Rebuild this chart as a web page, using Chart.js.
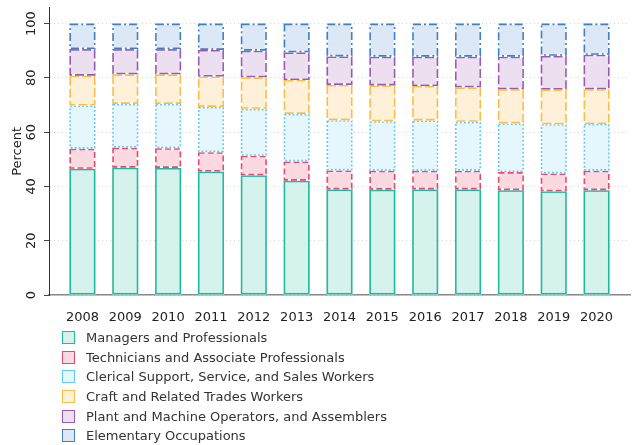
<!DOCTYPE html>
<html><head><meta charset="utf-8">
<script src="https://cdn.jsdelivr.net/npm/chart.js@4"></script>
<style>
html,body{margin:0;padding:0;background:#fff;}
#wrap{position:relative;width:637px;height:445px;}
#legend{position:absolute;left:62px;top:328px;font:13px "DejaVu Sans";color:#333;}
.item{display:flex;align-items:center;height:19.6px;white-space:nowrap;}
.box{width:13px;height:13px;box-sizing:border-box;border:1.6px solid;margin-right:11px;}
</style></head>
<body><div id="wrap"><canvas id="c" width="637" height="445"></canvas><div id="legend"></div></div>
<script>
const years = [2008,2009,2010,2011,2012,2013,2014,2015,2016,2017,2018,2019,2020];
const seriesNames = [
  "Managers and Professionals",
  "Technicians and Associate Professionals",
  "Clerical Support, Service, and Sales Workers",
  "Craft and Related Trades Workers",
  "Plant and Machine Operators, and Assemblers",
  "Elementary Occupations"
];
const managers    = [46.5,46.9,46.8,45.5,44.1,42.1,38.9,38.8,38.9,38.9,38.6,38.2,38.6];
const technicians = [7.4,7.4,7.3,7.1,7.2,7.1,7.0,7.0,6.9,6.9,6.7,6.6,7.2];
const clerical    = [15.9,16.1,16.3,16.7,17.3,17.5,18.5,18.2,18.5,18.0,17.9,18.1,17.2];
const craft       = [11.0,10.9,10.9,11.2,11.6,12.5,13.0,13.2,12.7,12.7,12.6,12.8,12.8];
const plant       = [9.8,9.3,9.3,9.8,9.8,10.2,10.5,10.6,10.8,11.3,12.0,12.4,12.7];
const elementary  = [9.4,9.4,9.4,9.7,10.0,10.6,12.1,12.2,12.2,12.2,12.2,11.9,11.5];
const yTicks = [0,20,40,60,80,100];

const seriesValues = [managers, technicians, clerical, craft, plant, elementary];
const lineColors = ['#1fb99b','#e6496f','#62c9f3','#fbbd45','#9a5ab3','#3f7fc4'];
const fillColors = ['#d6f2ec','#fbd9e1','#e6f6fd','#fff1d9','#ecdff0','#dce8f5'];
const dashes = [[], [6,3], [2,2], [9,3], [9,3], [8,3,2,3]];

const FONT = 'DejaVu Sans';

const datasets = seriesNames.map((name, i) => ({
  label: name,
  data: years.map((yr, j) => ({x: yr, y: seriesValues[i][j]})),
  backgroundColor: fillColors[i],
  borderWidth: 0,
  barPercentage: 0.607,
  categoryPercentage: 1.0
}));

const dashBorders = {
  id: 'dashBorders',
  afterDatasetsDraw(chart) {
    const ctx = chart.ctx;
    chart.data.datasets.forEach((ds, i) => {
      const meta = chart.getDatasetMeta(i);
      meta.data.forEach(el => {
        const p = el.getProps(['x','y','base','width'], true);
        const lw = 1.6;
        const l = p.x - p.width/2 + lw/2, r = p.x + p.width/2 - lw/2;
        const t = Math.min(p.y, p.base) + lw/2, b = Math.max(p.y, p.base) - lw/2;
        ctx.save();
        ctx.lineWidth = lw;
        ctx.strokeStyle = '#ffffff';
        ctx.setLineDash([]);
        ctx.strokeRect(l, t, r - l, b - t);
        ctx.strokeStyle = lineColors[i];
        ctx.setLineDash(dashes[i]);
        ctx.strokeRect(l, t, r - l, b - t);
        ctx.restore();
      });
    });
  }
};

new Chart(document.getElementById('c'), {
  type: 'bar',
  data: { datasets },
  plugins: [dashBorders],
  options: {
    responsive: false,
    animation: false,
    devicePixelRatio: 1,
    layout: { padding: { top: 7, right: 7, left: 0, bottom: 0 } },
    plugins: { legend: { display: false }, tooltip: { enabled: false } },
    scales: {
      x: {
        type: 'linear',
        stacked: true,
        min: 2007.22,
        max: 2020.78,
        offset: false,
        grid: { display: false, drawTicks: false },
        border: { color: '#8a8a8a', width: 1.6 },
        ticks: {
          autoSkip: false, maxRotation: 0, minRotation: 0,
          padding: 15,
          color: '#222',
          font: { family: FONT, size: 13 },
          callback: v => String(v)
        },
        afterBuildTicks: s => { s.ticks = years.map(v => ({ value: v })); },
        afterFit: s => { s.height = 150; }
      },
      y: {
        stacked: true,
        min: 0,
        max: 105.8,
        grid: { color: '#d4d4d4', lineWidth: 1, tickColor: '#444', tickLength: 5, tickBorderDash: [] },
        border: { color: '#333', width: 1, dash: [1, 3] },
        ticks: {
          minRotation: 90, maxRotation: 90,
          crossAlign: 'center',
          padding: 0,
          color: '#222',
          font: { family: FONT, size: 13 }
        },
        title: {
          display: true, text: 'Percent', color: '#222',
          font: { family: FONT, size: 13 },
          padding: { top: 10, bottom: 0 }
        },
        afterBuildTicks: s => { s.ticks = yTicks.map(v => ({ value: v })); },
        afterFit: s => { s.width = 49; }
      }
    }
  }
});

const legend = document.getElementById('legend');
seriesNames.forEach((name, i) => {
  const row = document.createElement('div');
  row.className = 'item';
  const box = document.createElement('span');
  box.className = 'box';
  box.style.borderColor = lineColors[i];
  box.style.background = fillColors[i];
  const txt = document.createElement('span');
  txt.textContent = name;
  row.appendChild(box);
  row.appendChild(txt);
  legend.appendChild(row);
});
</script>
</body></html>
